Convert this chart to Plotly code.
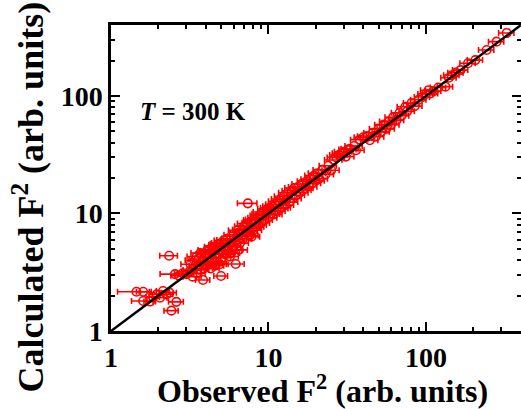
import plotly.graph_objects as go

# ---- data (observed F^2, calculated F^2, error on observed) ----
obs_low = [1.45, 1.60, 1.60, 1.77, 1.85, 1.95, 2.05, 2.14, 2.25, 2.35,
           2.42, 2.60, 2.34, 2.55, 2.70, 2.85, 3.00, 3.15, 3.84, 5.00]
calc_low = [2.16, 2.16, 1.80, 1.78, 1.95, 2.05, 1.92, 2.19, 2.05, 2.12,
            1.49, 1.77, 4.37, 3.05, 2.95, 3.10, 3.05, 3.20, 2.72, 2.94]
err_low = [0.35, 0.15, 0.25, 0.15, 0.18, 0.20, 0.22, 0.20, 0.22, 0.25,
           0.25, 0.28, 0.30, 0.50, 0.30, 0.32, 0.35, 0.35, 0.40, 0.50]

obs_mid = [3.2, 3.3, 3.4, 3.5, 3.5, 3.6, 3.7, 3.7, 3.8, 3.9,
           4.0, 4.0, 4.1, 4.2, 4.3, 4.3, 4.4, 4.5, 4.5, 4.6,
           4.7, 4.8, 4.8, 4.9, 5.0, 5.0, 5.1, 5.2, 5.3, 5.4,
           5.4, 5.5, 5.6, 5.7, 5.8, 5.9, 6.0, 6.0, 6.2, 6.2,
           6.3, 6.5, 6.5, 6.6, 6.8, 6.9, 7.0, 7.0, 7.2, 7.3,
           7.4, 7.5, 7.6, 7.8, 7.8, 7.9, 8.0, 8.0,
           3.6, 4.2, 4.6, 5.2, 5.8, 6.4, 3.3, 4.9]
calc_mid = [3.7, 3.3, 4.0, 3.1, 4.3, 3.6, 3.3, 4.6, 3.9, 3.4,
            4.5, 3.6, 4.9, 3.8, 4.7, 3.4, 4.2, 5.2, 3.8, 4.5,
            3.9, 5.4, 4.5, 3.7, 4.8, 5.6, 4.2, 5.2, 4.5, 5.95,
            5.6, 4.8, 5.3, 4.3, 6.1, 5.2, 6.6, 4.9, 3.72, 5.8,
            6.4, 4.9, 6.9, 5.6, 7.3, 6.1, 7.8, 6.4, 6.9, 8.2,
            12.2, 7.1, 6.5, 6.35, 8.4, 7.5, 8.8, 7.2,
            4.1, 4.8, 3.6, 5.9, 4.6, 7.2, 2.9, 5.5]
err_mid = [0.42, 0.43, 0.44, 0.46, 0.46, 0.47, 0.48, 0.48, 0.50, 0.51,
           0.52, 0.52, 0.53, 0.55, 0.56, 0.56, 0.57, 0.58, 0.58, 0.60,
           0.61, 0.62, 0.62, 0.64, 0.65, 0.65, 0.66, 0.68, 0.69, 0.70,
           0.70, 0.72, 0.73, 0.74, 0.75, 0.77, 0.78, 0.78, 0.81, 0.81,
           0.82, 0.85, 0.85, 0.86, 0.88, 0.90, 0.91, 0.91, 0.94, 0.95,
           1.05, 0.98, 0.99, 1.0, 1.0, 1.0, 1.05, 1.05,
           0.47, 0.55, 0.60, 0.68, 0.75, 0.83, 0.43, 0.64]

obs_upper = [8.2, 8.3, 8.5, 8.6, 8.8, 9.0, 9.0, 9.2, 9.4, 9.6,
             9.8, 10.0, 10.2, 10.4, 10.6, 10.8, 11.0, 11.3, 11.5, 11.8,
             12.0, 12.2, 12.5, 12.8, 13.0, 13.3, 13.6, 14.0, 14.3, 14.6,
             15.0, 15.4, 15.8, 16.2, 16.5, 17.0, 17.5, 18.0, 18.5, 19.0,
             19.5, 20.0]
calc_upper = [8.9, 7.7, 9.2, 8.0, 9.6, 8.3, 9.9, 10.3, 8.8, 9.8,
              10.9, 9.2, 11.2, 9.9, 11.5, 9.8, 12.0, 10.5, 12.7, 11.0,
              13.3, 11.2, 14.0, 11.8, 13.2, 15.0, 12.5, 15.6, 13.4, 16.5,
              14.3, 16.8, 15.0, 17.8, 15.8, 16.4, 18.8, 16.9, 19.6, 18.1,
              21.0, 19.0]
err_upper = [1.05, 1.05, 1.1, 1.1, 1.15, 1.15, 1.15, 1.2, 1.2, 1.25,
             1.25, 1.3, 1.3, 1.35, 1.4, 1.4, 1.4, 1.45, 1.5, 1.5,
             1.55, 1.6, 1.6, 1.65, 1.7, 1.7, 1.75, 1.8, 1.85, 1.9,
             1.95, 2.0, 2.05, 2.1, 2.15, 2.2, 2.25, 2.3, 2.4, 2.45,
             2.5, 2.6]

obs_high = [20.5, 21, 22, 23, 24, 25, 26, 27, 28, 29,
            30, 31, 32, 33, 35, 36, 38, 40, 42, 44,
            46, 48, 50, 52, 54, 56, 58, 60]
calc_high = [22.0, 19.8, 23.5, 21.5, 25.5, 23.3, 28.5, 30.0, 31.5, 32.5,
             33.5, 30.5, 35.0, 35.5, 37.5, 34.5, 42.5, 44.5, 45.5, 42.0,
             48.5, 45.0, 52.5, 49.5, 57.0, 52.5, 60.5, 57.0]
err_high = [2.6, 2.7, 2.8, 2.9, 3.0, 3.1, 3.3, 3.4, 3.5, 3.6,
            3.8, 3.9, 4.0, 4.1, 4.4, 4.5, 4.8, 5.0, 5.2, 5.5,
            5.7, 6.0, 6.2, 6.5, 6.7, 7.0, 7.2, 7.5]

obs_top = [62, 65, 68, 70, 74, 76, 81, 85, 90, 95,
           100, 104, 107, 112, 120, 133, 140, 146, 155, 166,
           185, 206, 243, 281, 326]
calc_top = [66, 62, 72, 68, 81, 74, 87, 82, 93, 98,
            104, 112, 105, 110, 118, 120, 143, 150, 158, 166,
            190, 202, 246, 290, 344]
err_top = [7.0, 7.3, 7.6, 7.8, 8.3, 8.5, 9.0, 9.5, 10.0, 10.6,
           11.1, 11.6, 11.9, 12.5, 13.4, 14.8, 15.6, 16.3, 17.3, 18.5,
           20.6, 23.0, 27.1, 31.3, 36.3]

obs_F2 = obs_low + obs_mid + obs_upper + obs_high + obs_top
calc_F2 = calc_low + calc_mid + calc_upper + calc_high + calc_top
obs_err = err_low + err_mid + err_upper + err_high + err_top

diag = [1, 400]
major_ticks = [1, 10, 100]
major_labels = ["1", "10", "100"]
minor_ticks = [2, 3, 4, 5, 6, 7, 8, 9, 20, 30, 40, 50, 60, 70, 80, 90, 200, 300]

RED = "#ff0000"
FONT = "Liberation Serif"

fig = go.Figure()
fig.add_trace(go.Scatter(
    x=obs_F2, y=calc_F2, mode="markers",
    marker=dict(symbol="circle-open", size=8.5, color=RED, line=dict(width=1.6, color=RED)),
    error_x=dict(type="data", array=obs_err, visible=True, color=RED, thickness=1.6, width=3),
    showlegend=False,
))
fig.add_trace(go.Scatter(
    x=diag, y=diag, mode="lines", line=dict(color="black", width=2.5), showlegend=False,
))

axis_common = dict(
    type="log", showgrid=False, zeroline=False, automargin=False,
    showline=True, linecolor="black", linewidth=2.5, mirror="ticks",
    ticks="inside", ticklen=9, tickwidth=2, tickcolor="black",
    tickvals=major_ticks, ticktext=major_labels,
    tickfont=dict(family=FONT, size=28, color="black", weight="bold"),
    minor=dict(ticks="inside", ticklen=4, tickwidth=1.5, tickcolor="black", tickvals=minor_ticks),
)

fig.update_layout(
    width=521, height=409,
    margin=dict(l=111, r=0, t=25, b=78),
    paper_bgcolor="white", plot_bgcolor="white",
    font=dict(family=FONT, color="black"),
    xaxis=dict(**axis_common, range=[0, 2.604]),
    yaxis=dict(**axis_common, range=[0, 2.604]),
    annotations=[
        dict(text="<i>T</i> = 300 K", xref="paper", yref="paper", x=0.066, y=0.716,
             xanchor="left", yanchor="middle", showarrow=False,
             font=dict(family=FONT, size=25, color="black", weight="bold")),
        dict(text="Observed F<sup>2</sup> (arb. units)", xref="paper", yref="paper",
             x=0.515, y=-0.262, xanchor="center", yanchor="bottom", showarrow=False,
             font=dict(family=FONT, size=32, color="black", weight="bold")),
        dict(text="Calculated F<sup>2</sup> (arb. units)", xref="paper", yref="paper",
             x=-0.202, y=0.437, xanchor="center", yanchor="middle", textangle=-90,
             showarrow=False,
             font=dict(family=FONT, size=36, color="black", weight="bold")),
    ],
)

fig.write_html(
    "out.html",
    config={"displayModeBar": False},
    post_script="document.body.style.margin='0';document.body.style.overflow='hidden';",
)
